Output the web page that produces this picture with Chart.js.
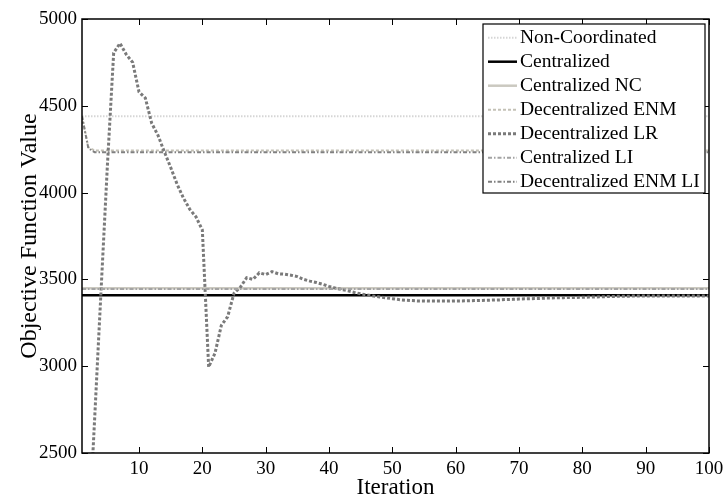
<!DOCTYPE html>
<html>
<head>
<meta charset="utf-8">
<title>Objective Function Value</title>
<script src="https://cdn.jsdelivr.net/npm/chart.js@4.4.1/dist/chart.umd.min.js"></script>
<style>
  html, body { margin: 0; padding: 0; background: #fff; }
</style>
</head>
<body>
<canvas id="chart" width="723" height="499"></canvas>
<script>
// axis ticks
const xTicks = [10, 20, 30, 40, 50, 60, 70, 80, 90, 100];
const yTicks = [2500, 3000, 3500, 4000, 4500, 5000];

const seriesNames = [
  'Non-Coordinated', 'Centralized', 'Centralized NC', 'Decentralized ENM',
  'Decentralized LR', 'Centralized LI', 'Decentralized ENM LI'
];

// flat results, first and last iteration
const flatIter = [1, 100];
const nonCoordinated = [4440, 4440];
const centralized = [3408, 3408];
const centralizedNC = [3449, 3449];
const centralizedLI = [3444, 3444];

// ENM variants settle after a couple of iterations
const enmIter = [1, 2, 3, 100];
const decentralizedENM = [4440, 4262, 4242, 4242];
const decentralizedENMLI = [4440, 4255, 4233, 4233];

// lagrangian relaxation, iterations 1..100
const lrIter = Array.from({ length: 100 }, (_, i) => i + 1);
const decentralizedLR = [
  1250, 1980, 2700, 3430, 4150, 4805, 4860, 4795, 4750, 4580,
  4545, 4400, 4330, 4235, 4145, 4050, 3970, 3905, 3860, 3785,
  2995, 3075, 3235, 3285, 3420, 3455, 3510, 3500, 3538, 3528,
  3545, 3532, 3530, 3524, 3516, 3500, 3490, 3482, 3472, 3460,
  3450, 3442, 3434, 3425, 3417, 3410, 3404, 3399, 3394, 3389,
  3384, 3380, 3378, 3376, 3376, 3375, 3375, 3375, 3375, 3376,
  3376, 3377, 3378, 3379, 3380, 3381, 3382, 3384, 3385, 3387,
  3388, 3389, 3390, 3392, 3393, 3394, 3395, 3396, 3396, 3397,
  3398, 3399, 3400, 3401, 3402, 3403, 3403, 3404, 3404, 3404,
  3404, 3404, 3405, 3405, 3405, 3405, 3405, 3405, 3405, 3405
];

const pts = (xs, ys) => xs.map((x, i) => ({ x: x, y: ys[i] }));

const SERIF = "'Liberation Serif', 'Times New Roman', serif";

const styles = [
  { color: '#d6d6d6', width: 2, dash: [1.5, 1.5] },
  { color: '#000000', width: 2.5, dash: [] },
  { color: '#cbc9c0', width: 2.5, dash: [] },
  { color: '#c4c1b6', width: 2, dash: [3, 2] },
  { color: '#7a7a7a', width: 3, dash: [3, 2] },
  { color: '#a3a3a3', width: 2, dash: [4, 2, 1.5, 2] },
  { color: '#808080', width: 2, dash: [4, 2, 1.5, 2] }
];

const seriesData = [
  pts(flatIter, nonCoordinated),
  pts(flatIter, centralized),
  pts(flatIter, centralizedNC),
  pts(enmIter, decentralizedENM),
  pts(lrIter, decentralizedLR),
  pts(flatIter, centralizedLI),
  pts(enmIter, decentralizedENMLI)
];

const datasets = seriesNames.map((name, i) => ({
  label: name,
  data: seriesData[i],
  borderColor: styles[i].color,
  borderWidth: styles[i].width,
  borderDash: styles[i].dash,
  pointRadius: 0,
  tension: 0,
  fill: false,
  order: seriesNames.length - i   // later series sit on top
}));

// box around the plot with inward tick marks on every side
const framePlugin = {
  id: 'frame',
  afterDatasetsDraw(chart) {
    const { ctx, chartArea: a, scales: { x, y } } = chart;
    ctx.save();
    ctx.strokeStyle = '#000';
    ctx.lineWidth = 1;
    ctx.setLineDash([]);
    ctx.beginPath();
    xTicks.forEach(v => {
      const px = Math.round(x.getPixelForValue(v)) + 0.5;
      ctx.moveTo(px, a.bottom); ctx.lineTo(px, a.bottom - 6);
      ctx.moveTo(px, a.top); ctx.lineTo(px, a.top + 6);
    });
    yTicks.forEach(v => {
      const py = Math.round(y.getPixelForValue(v)) + 0.5;
      ctx.moveTo(a.left, py); ctx.lineTo(a.left + 6, py);
      ctx.moveTo(a.right, py); ctx.lineTo(a.right - 6, py);
    });
    ctx.stroke();
    ctx.lineWidth = 1.5;
    ctx.strokeRect(a.left, a.top, a.right - a.left, a.bottom - a.top);
    ctx.restore();
  }
};

// boxed legend in the upper right corner of the plot
const legendBox = {
  id: 'legendBox',
  afterDraw(chart) {
    const { ctx, chartArea: a } = chart;
    const w = 222, h = 169;
    const left = a.right - 226, top = a.top + 5;
    ctx.save();
    ctx.fillStyle = '#fff';
    ctx.fillRect(left, top, w, h);
    ctx.strokeStyle = '#000';
    ctx.lineWidth = 1.2;
    ctx.setLineDash([]);
    ctx.strokeRect(left, top, w, h);
    ctx.font = '19.5px ' + SERIF;
    ctx.textBaseline = 'middle';
    ctx.fillStyle = '#000';
    chart.data.datasets.forEach((ds, i) => {
      const cy = top + 13.7 + i * 24;
      ctx.strokeStyle = ds.borderColor;
      ctx.lineWidth = ds.borderWidth;
      ctx.setLineDash(ds.borderDash);
      ctx.beginPath();
      ctx.moveTo(left + 5, cy);
      ctx.lineTo(left + 34, cy);
      ctx.stroke();
      ctx.fillText(ds.label, left + 37, cy);
    });
    ctx.restore();
  }
};

Chart.defaults.color = '#000';
Chart.defaults.font.family = SERIF;

new Chart(document.getElementById('chart'), {
  type: 'line',
  data: { datasets },
  options: {
    responsive: false,
    devicePixelRatio: 1,
    animation: false,
    layout: { padding: { top: 19, right: 14, left: 0, bottom: 0 } },
    plugins: { legend: { display: false }, tooltip: { enabled: false } },
    scales: {
      x: {
        type: 'linear',
        min: 1,
        max: 100,
        grid: { display: false, drawTicks: false },
        border: { display: false },
        afterBuildTicks: s => { s.ticks = xTicks.map(v => ({ value: v })); },
        afterFit: s => { s.height = 46; s.paddingLeft = 0; s.paddingRight = 0; },
        ticks: { font: { size: 19 }, padding: 5, maxRotation: 0, callback: v => String(v) },
        title: {
          display: true,
          text: 'Iteration',
          font: { size: 23, lineHeight: 1 },
          padding: { top: 0, bottom: 0 }
        }
      },
      y: {
        min: 2500,
        max: 5000,
        grid: { display: false, drawTicks: false },
        border: { display: false },
        afterBuildTicks: s => { s.ticks = yTicks.map(v => ({ value: v })); },
        afterFit: s => { s.width = 82; s.paddingTop = 0; s.paddingBottom = 0; },
        ticks: { font: { size: 19 }, padding: 5, callback: v => String(v) },
        title: {
          display: true,
          text: 'Objective Function Value',
          font: { size: 24, lineHeight: 1 },
          padding: { top: 18, bottom: 0 }
        }
      }
    }
  },
  plugins: [framePlugin, legendBox]
});
</script>
</body>
</html>
